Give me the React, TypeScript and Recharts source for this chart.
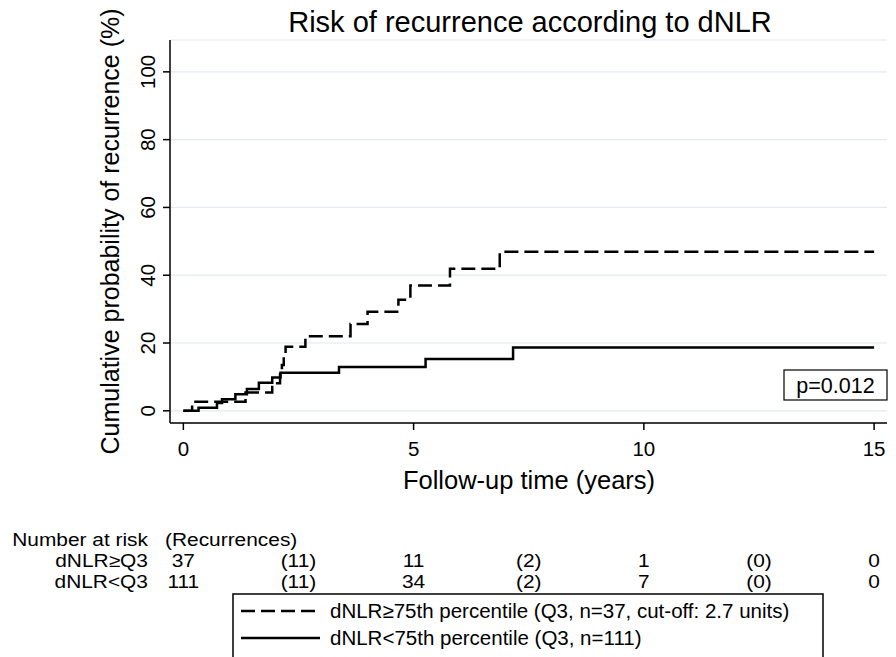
import React from 'react';
import { LineChart, Line, XAxis, YAxis, CartesianGrid } from 'recharts';

// follow-up time (years) and cumulative recurrence (%)
const highTimes = [0, 0.19, 1.35, 1.93, 2.1, 2.14, 2.18, 2.22, 2.65, 3.63, 4.0, 4.67, 4.93, 5.79, 6.87, 15];
const highRisk = [0, 2.7, 5.4, 8.1, 10.8, 13.5, 16.2, 18.9, 22.0, 25.6, 29.2, 32.8, 37.0, 41.9, 46.9, 46.9];

const lowTimes = [0, 0.33, 0.73, 0.84, 1.13, 1.38, 1.64, 1.93, 2.11, 3.38, 5.26, 7.16, 15];
const lowRisk = [0, 0.9, 2.3, 3.4, 4.9, 6.4, 8.3, 9.8, 11.2, 12.9, 15.3, 18.7, 18.7];

const xTicks = [0, 5, 10, 15];
const yTicks = [0, 20, 40, 60, 80, 100];

// number at risk table
const riskTimes = [0, 5, 10, 15];
const recurTimes = [2.5, 7.5, 12.5];
const atRiskHigh = [37, 11, 1, 0];
const atRiskLow = [111, 34, 7, 0];
const recurHigh = [11, 2, 0];
const recurLow = [11, 2, 0];

const highLabel = 'dNLR\u226575th percentile (Q3, n=37, cut-off: 2.7 units)';
const lowLabel = 'dNLR<75th percentile (Q3, n=111)';

const highData = highTimes.map((t, i) => ({ t, v: highRisk[i] }));
const lowData = lowTimes.map((t, i) => ({ t, v: lowRisk[i] }));

const W = 896;
const H = 657;
const PLOT_LEFT = 170;
const PLOT_RIGHT = 887;
const PLOT_TOP = 40;
const PLOT_BOTTOM = 423;
const X_DOMAIN: [number, number] = [-0.29, 15.28];
const Y_DOMAIN: [number, number] = [-3.6, 109.4];

const xPx = (t: number) =>
  PLOT_LEFT + ((t - X_DOMAIN[0]) / (X_DOMAIN[1] - X_DOMAIN[0])) * (PLOT_RIGHT - PLOT_LEFT);

const FONT = '"Liberation Sans", Arial, sans-serif';
const DASH = '14 6';
const SX = 1.13; // the table text in the original is a bit wide

const YTick = (props: any) => {
  const { x, y, payload } = props;
  const bx = x - 6;
  return (
    <text x={bx} y={y} transform={`rotate(-90, ${bx}, ${y})`} textAnchor="middle" fontSize={20.5} fill="#000">
      {payload.value}
    </text>
  );
};

export default function App() {
  // baselines of the risk table rows
  const rowY = [546, 567, 588];
  const midY = (PLOT_TOP + PLOT_BOTTOM) / 2;
  const sx = (x: number) => x / SX;
  return (
    <div style={{ position: 'absolute', left: 0, top: 0, width: W, height: H, background: '#fff', fontFamily: FONT }}>
      <LineChart
        width={W}
        height={H}
        margin={{ top: PLOT_TOP, right: W - PLOT_RIGHT, left: 70, bottom: H - PLOT_BOTTOM - 60 }}
      >
        <CartesianGrid horizontal vertical={false} stroke="#e1eaf2" strokeWidth={1.2} />
        <XAxis
          type="number"
          dataKey="t"
          domain={X_DOMAIN}
          ticks={xTicks}
          allowDataOverflow
          height={60}
          tickSize={7}
          tickMargin={11}
          interval={0}
          axisLine={{ stroke: '#000', strokeWidth: 1.5 }}
          tickLine={{ stroke: '#000', strokeWidth: 1.5 }}
          tick={{ fontSize: 20.5, fill: '#000' }}
        />
        <YAxis
          type="number"
          domain={Y_DOMAIN}
          ticks={yTicks}
          allowDataOverflow
          width={100}
          tickSize={7}
          interval={0}
          axisLine={{ stroke: '#000', strokeWidth: 1.5 }}
          tickLine={{ stroke: '#000', strokeWidth: 1.5 }}
          tick={<YTick />}
        />
        <Line
          data={lowData}
          dataKey="v"
          type="stepAfter"
          stroke="#000"
          strokeWidth={2.5}
          dot={false}
          activeDot={false}
          isAnimationActive={false}
        />
        <Line
          data={highData}
          dataKey="v"
          type="stepAfter"
          stroke="#000"
          strokeWidth={2.5}
          strokeDasharray={DASH}
          dot={false}
          activeDot={false}
          isAnimationActive={false}
        />
      </LineChart>

      <svg
        width={W}
        height={H}
        style={{ position: 'absolute', left: 0, top: 0, pointerEvents: 'none', fontFamily: FONT }}
      >
        <text x={530} y={32} textAnchor="middle" fontSize={29} fill="#000">
          Risk of recurrence according to dNLR
        </text>
        <text
          x={119}
          y={midY}
          transform={`rotate(-90, 119, ${midY})`}
          textAnchor="middle"
          fontSize={25}
          fill="#000"
        >
          Cumulative probability of recurrence (%)
        </text>
        <text x={529} y={489} textAnchor="middle" fontSize={25.5} fill="#000">
          Follow-up time (years)
        </text>

        {/* p-value box */}
        <rect x={784} y={370} width={103} height={30} fill="#fff" stroke="#000" strokeWidth={1.2} />
        <text x={835.5} y={393} textAnchor="middle" fontSize={21.5} fill="#000">
          p=0.012
        </text>

        {/* number at risk table */}
        <g fontSize={18.5} fill="#000" transform={`scale(${SX}, 1)`}>
          <text x={sx(148)} y={rowY[0]} textAnchor="end">Number at risk</text>
          <text x={sx(165)} y={rowY[0]}>(Recurrences)</text>
          <text x={sx(148)} y={rowY[1]} textAnchor="end">dNLR{'\u2265'}Q3</text>
          <text x={sx(148)} y={rowY[2]} textAnchor="end">dNLR{'<'}Q3</text>
          {riskTimes.map((t, i) => (
            <text key={`h${t}`} x={sx(xPx(t))} y={rowY[1]} textAnchor="middle">{atRiskHigh[i]}</text>
          ))}
          {riskTimes.map((t, i) => (
            <text key={`l${t}`} x={sx(xPx(t))} y={rowY[2]} textAnchor="middle">{atRiskLow[i]}</text>
          ))}
          {recurTimes.map((t, i) => (
            <text key={`rh${t}`} x={sx(xPx(t))} y={rowY[1]} textAnchor="middle">({recurHigh[i]})</text>
          ))}
          {recurTimes.map((t, i) => (
            <text key={`rl${t}`} x={sx(xPx(t))} y={rowY[2]} textAnchor="middle">({recurLow[i]})</text>
          ))}
        </g>

        {/* legend */}
        <rect x={233} y={594} width={590} height={80} fill="#fff" stroke="#000" strokeWidth={1.5} />
        <line x1={241} y1={611} x2={320} y2={611} stroke="#000" strokeWidth={2.5} strokeDasharray={DASH} />
        <text x={330} y={618} fontSize={20.5} fill="#000">{highLabel}</text>
        <line x1={241} y1={638} x2={320} y2={638} stroke="#000" strokeWidth={2.5} />
        <text x={330} y={645} fontSize={20.5} fill="#000">{lowLabel}</text>
      </svg>
    </div>
  );
}
